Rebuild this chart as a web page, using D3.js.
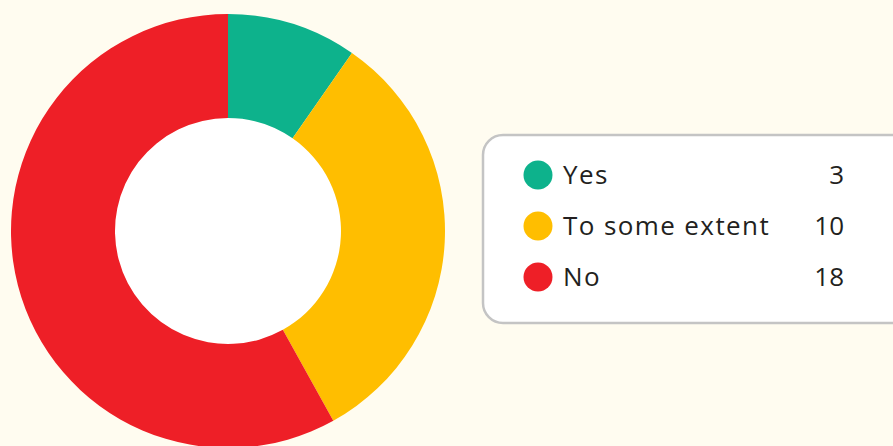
<!DOCTYPE html>
<html>
<head>
<meta charset="utf-8">
<script src="https://cdn.jsdelivr.net/npm/d3@7"></script>
<style>
  html, body { margin: 0; padding: 0; background: #fffcf0; overflow: hidden; }
  svg { display: block; }
</style>
</head>
<body>
<svg id="chart" width="893" height="446"></svg>
<script>
const categories = ["Yes", "To some extent", "No"];
const values = [3, 10, 18];
const colors = ["#0db28c", "#ffbe00", "#ee1f27"];

const svg = d3.select("#chart");

// Donut
const cx = 228, cy = 231, outerR = 217, innerR = 113;
const pie = d3.pie().sort(null).value(d => d.value);
const arc = d3.arc().innerRadius(innerR).outerRadius(outerR);
const data = categories.map((c, i) => ({ name: c, value: values[i], color: colors[i] }));

const g = svg.append("g").attr("transform", `translate(${cx},${cy})`);
g.append("circle").attr("r", innerR).attr("fill", "#ffffff");
g.selectAll("path")
  .data(pie(data))
  .join("path")
  .attr("d", arc)
  .attr("fill", d => d.data.color);

// Legend
const lx = 483, ly = 135, lw = 440, lh = 188;
const legend = svg.append("g");
legend.append("rect")
  .attr("x", lx).attr("y", ly).attr("width", lw).attr("height", lh)
  .attr("rx", 20).attr("ry", 20)
  .attr("fill", "#ffffff")
  .attr("stroke", "#c4c4c4").attr("stroke-width", 2.5);

const rowY = d3.scalePoint().domain(categories).range([175, 277]);
const font = "'Open Sans', 'DejaVu Sans', sans-serif";

const rows = legend.selectAll("g.row")
  .data(data)
  .join("g")
  .attr("class", "row")
  .attr("transform", d => `translate(0,${rowY(d.name)})`);

rows.append("circle")
  .attr("cx", 538).attr("cy", 0).attr("r", 14.5)
  .attr("fill", d => d.color);

rows.append("text")
  .attr("x", 563).attr("y", 0).attr("dy", "0.36em")
  .attr("font-family", font).attr("font-size", 26)
  .attr("letter-spacing", 1.4)
  .attr("fill", "#231f20")
  .text(d => d.name);

rows.append("text")
  .attr("x", 844).attr("y", 0).attr("dy", "0.36em")
  .attr("text-anchor", "end")
  .attr("font-family", font).attr("font-size", 26)
  .attr("fill", "#231f20")
  .text(d => d.value);
</script>
</body>
</html>
